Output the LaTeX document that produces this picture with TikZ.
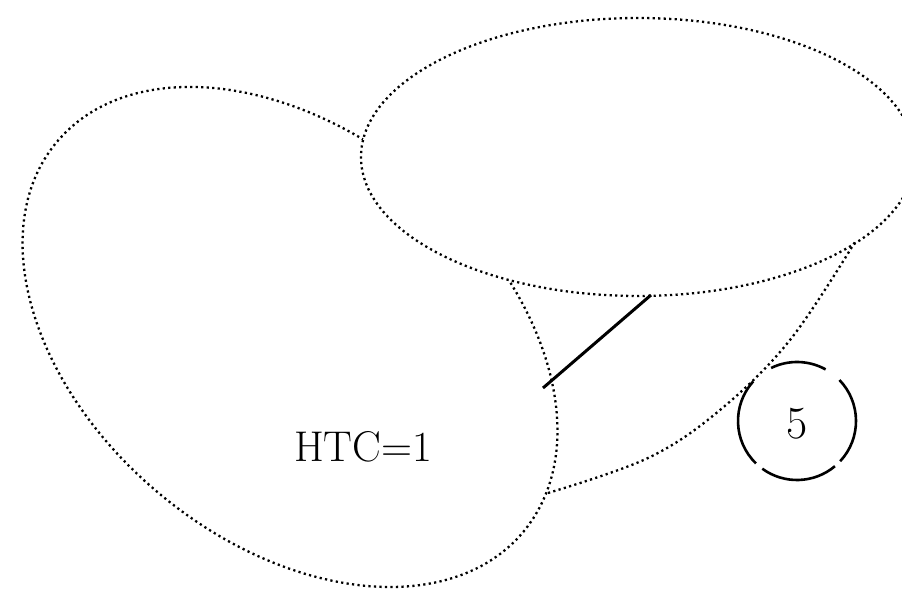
\documentclass[tikz,border=0pt]{standalone}
\usepackage{fontspec}
\begin{document}
\begin{tikzpicture}[x=1pt,y=-1pt,
  dotline/.style={line width=2.3pt, dash pattern=on 2.2pt off 3.3pt, black},
  solidline/.style={line width=3pt, black},
  ringarc/.style={line width=2.6pt, black},
  bigtext/.style={font=\fontsize{43}{43}\selectfont, inner sep=0pt},
  ringtext/.style={font=\fontsize{46}{46}\selectfont, inner sep=0pt}]
\useasboundingbox (0,0) rectangle (902,591);
\clip (0,0) rectangle (902,591);
% large blob
\coordinate (blobc) at (290,337);
\draw[dotline, rotate around={-39.9:(blobc)}] (blobc) ellipse [x radius=304pt, y radius=204pt];
% top ellipse (covers the hidden part of the blob)
\coordinate (topc) at (638,157);
\path[fill=white] (topc) ellipse [x radius=277pt, y radius=139pt];
\draw[dotline] (topc) ellipse [x radius=277pt, y radius=139pt];
% third region boundary
\coordinate (j1) at (548,493);
\coordinate (j2) at (855,242);
\draw[dotline] plot[smooth, tension=0.6] coordinates {(j1) (648,458) (720,410) (790,340) (j2)};
% solid segment
\coordinate (s1) at (543,388);
\coordinate (s2) at (651,295);
\draw[solidline] (s1) -- (s2);
% text
\node[bigtext] (htc) at (363,447) {HTC=1};
% broken ring with 5
\node[ringtext] (five) at (797,424) {5};
\coordinate (rc) at (797,421);
\draw[ringarc] (rc) ++(61:59pt) arc[start angle=61, end angle=116, radius=59pt];
\draw[ringarc] (rc) ++(138:59pt) arc[start angle=138, end angle=226, radius=59pt];
\draw[ringarc] (rc) ++(234:59pt) arc[start angle=234, end angle=310, radius=59pt];
\draw[ringarc] (rc) ++(317:59pt) arc[start angle=317, end angle=404, radius=59pt];
\end{tikzpicture}
\end{document}
